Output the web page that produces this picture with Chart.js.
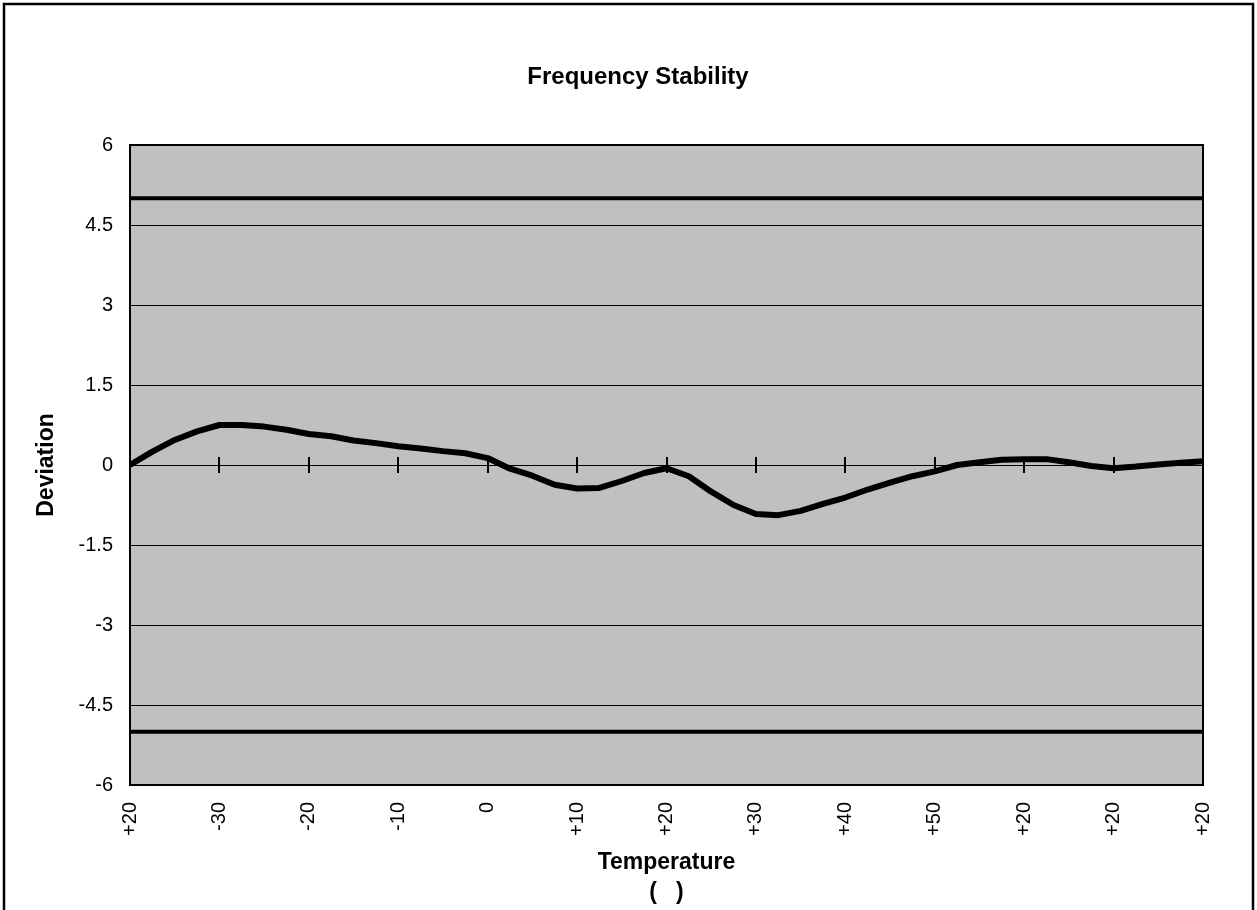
<!DOCTYPE html>
<html>
<head>
<meta charset="utf-8">
<title>Frequency Stability</title>
<script src="https://cdn.jsdelivr.net/npm/chart.js@4.4.1/dist/chart.umd.min.js"></script>
<style>
  html, body { margin: 0; padding: 0; background: #fff; }
  canvas { display: block; }
</style>
</head>
<body>
<canvas id="chart" width="1257" height="910"></canvas>
<script>
// tick labels along the temperature axis (one per step)
const tempLabels = ['+20', '-30', '-20', '-10', '0', '+10', '+20', '+30', '+40', '+50', '+20', '+20', '+20'];
// measured deviation, 4 readings per temperature step
const samplesPerStep = 4;
const deviation = [
  0, 0.25, 0.47, 0.63, 0.75, 0.75, 0.72, 0.66,
  0.58, 0.54, 0.46, 0.41, 0.35, 0.31, 0.26, 0.22,
  0.13, -0.07, -0.20, -0.37, -0.44, -0.43, -0.30, -0.15,
  -0.06, -0.21, -0.50, -0.75, -0.92, -0.94, -0.86, -0.73,
  -0.61, -0.46, -0.33, -0.21, -0.12, 0.00, 0.05, 0.10,
  0.11, 0.11, 0.05, -0.02, -0.06, -0.03, 0.01, 0.04,
  0.07
];
const upperLimit = [5, 5];
const lowerLimit = [-5, -5];
const yTicks = [-6, -4.5, -3, -1.5, 0, 1.5, 3, 4.5, 6];

const lastStep = tempLabels.length - 1;
const devPoints = deviation.map((v, i) => ({ x: i / samplesPerStep, y: v }));
const limitPoints = arr => arr.map((v, i) => ({ x: i * lastStep, y: v }));

const FONT = '"Liberation Sans", Arial, sans-serif';

// white page, grey plot area, outer frame
const backdrop = {
  id: 'backdrop',
  beforeDraw(chart) {
    const { ctx, chartArea: a } = chart;
    ctx.save();
    ctx.fillStyle = '#fff';
    ctx.fillRect(0, 0, chart.width, chart.height);
    ctx.fillStyle = '#c0c0c0';
    ctx.fillRect(a.left, a.top, a.right - a.left, a.bottom - a.top);
    ctx.strokeStyle = '#000';
    ctx.lineWidth = 2.5;
    ctx.strokeRect(4, 4, 1249, 1000);
    ctx.restore();
  },
  beforeDatasetsDraw(chart) {
    const { ctx, scales: { x, y } } = chart;
    ctx.save();
    ctx.strokeStyle = '#000';
    // little cross ticks on the zero line
    ctx.lineWidth = 2;
    const y0 = y.getPixelForValue(0);
    for (let i = 1; i < lastStep; i++) {
      const px = Math.round(x.getPixelForValue(i));
      ctx.beginPath();
      ctx.moveTo(px, y0 - 8);
      ctx.lineTo(px, y0 + 8);
      ctx.stroke();
    }
    ctx.restore();
  },
  afterDatasetsDraw(chart) {
    const { ctx, chartArea: a } = chart;
    ctx.save();
    ctx.strokeStyle = '#000';
    ctx.lineWidth = 2;
    ctx.strokeRect(a.left, a.top, a.right - a.left, a.bottom - a.top);
    // chart title
    ctx.fillStyle = '#000';
    ctx.font = 'bold 24px ' + FONT;
    ctx.textAlign = 'center';
    ctx.textBaseline = 'middle';
    ctx.fillText('Frequency Stability', 638, 77);
    ctx.restore();
  }
};

new Chart(document.getElementById('chart'), {
  type: 'line',
  data: {
    datasets: [
      {
        label: 'Deviation',
        data: devPoints,
        borderColor: '#000',
        borderWidth: 6,
        borderJoinStyle: 'round',
        pointRadius: 0,
        tension: 0
      },
      {
        label: 'Upper limit',
        data: limitPoints(upperLimit),
        borderColor: '#000',
        borderWidth: 4,
        pointRadius: 0
      },
      {
        label: 'Lower limit',
        data: limitPoints(lowerLimit),
        borderColor: '#000',
        borderWidth: 4,
        pointRadius: 0
      }
    ]
  },
  options: {
    responsive: false,
    animation: false,
    layout: { padding: { left: 0, top: 145, right: 54, bottom: 0 } },
    plugins: {
      legend: { display: false },
      tooltip: { enabled: false }
    },
    scales: {
      x: {
        type: 'linear',
        min: 0,
        max: lastStep,
        afterBuildTicks(scale) {
          scale.ticks = tempLabels.map((_, i) => ({ value: i }));
        },
        afterFit(scale) { scale.height = 125; },
        grid: { display: false, drawTicks: false },
        border: { display: false },
        ticks: {
          autoSkip: false,
          maxRotation: 90,
          minRotation: 90,
          padding: 17,
          color: '#000',
          font: { family: FONT, size: 20 },
          callback: v => tempLabels[v]
        },
        title: {
          display: true,
          text: ['Temperature', '(   )'],
          color: '#000',
          font: { family: FONT, size: 23, weight: 'bold', lineHeight: 1.3 },
          padding: { top: 0, bottom: 2 }
        }
      },
      y: {
        min: -6,
        max: 6,
        afterBuildTicks(scale) {
          scale.ticks = yTicks.map(v => ({ value: v }));
        },
        afterFit(scale) { scale.width = 130; },
        grid: { color: '#000', lineWidth: 1, drawTicks: false },
        border: { display: false },
        ticks: {
          padding: 17,
          color: '#000',
          font: { family: FONT, size: 20 },
          callback: v => String(v)
        },
        title: {
          display: true,
          text: 'Deviation',
          color: '#000',
          font: { family: FONT, size: 23, weight: 'bold' },
          padding: { top: 33, bottom: 0 }
        }
      }
    }
  },
  plugins: [backdrop]
});
</script>
</body>
</html>
